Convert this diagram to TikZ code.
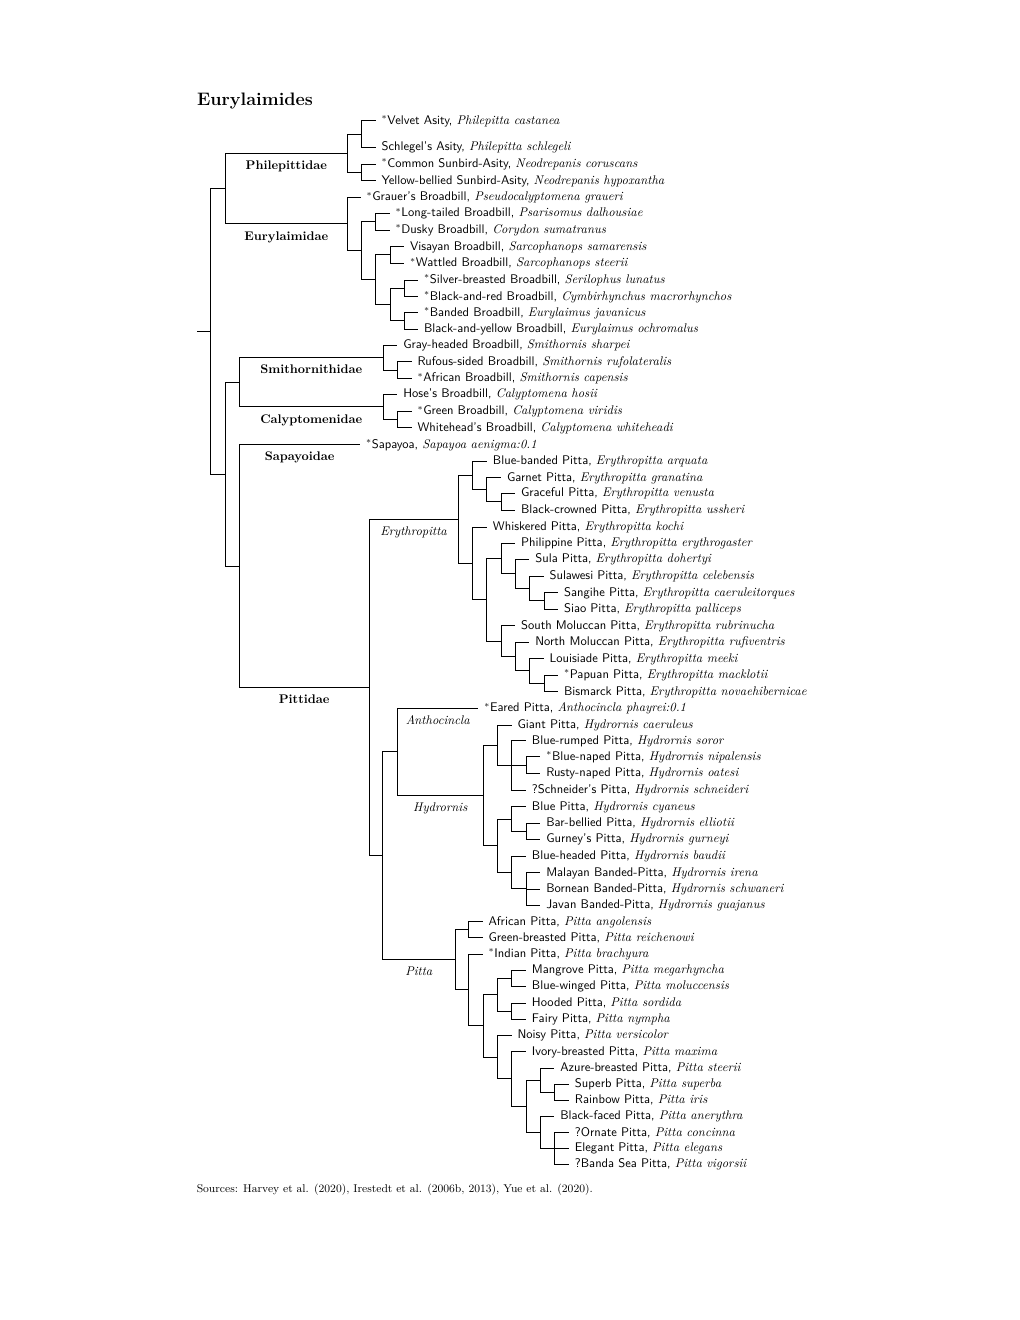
\documentclass[tikz,border=0pt]{standalone}
\usepackage{fontspec}
\usetikzlibrary{calc}
\newcommand\cname[1]{{\sffamily #1}}
\newcommand\sname[1]{{\itshape #1}}
\newcommand\st{$^*$}
\newcommand\inode[4]{\path let \p1=(#3), \p2=(#4) in coordinate (#1) at ({#2*0.798pt},{0.5*(\y1+\y2)});}
\newcommand\leafnode[5]{\coordinate (#1) at (#2,#3); \node[leaftxt] (#1t) at ({#2+5.8},{#3+3.5}) {\cname{#4} \sname{#5}};}
\newcommand\kids[2]{\foreach \kid in {#2}{\draw[br] (#1) |- (\kid);}}
\tikzset{
  br/.style={line width=0.8pt},
  leaftxt/.style={anchor=base west, inner sep=0pt},
  famlab/.style={anchor=base, inner sep=0pt, font=\bfseries, yshift=-13.0pt},
  genlab/.style={anchor=base, inner sep=0pt, font=\itshape, yshift=-12.6pt}
}
\begin{document}
\begin{tikzpicture}[x=0.798pt,y=-0.798pt]
\useasboundingbox (0,0) rectangle (1020,1320);
\node[anchor=base west, font=\Large\bfseries, inner sep=0pt] (title) at (196.8,105) {Eurylaimides};
% leaves
\leafnode{l1}{375.5}{120.7}{\st Velvet Asity,}{Philepitta castanea}
\leafnode{l2}{375.5}{147.3}{Schlegel's Asity,}{Philepitta schlegeli}
\leafnode{l3}{375.5}{164.0}{\st Common Sunbird-Asity,}{Neodrepanis coruscans}
\leafnode{l4}{375.5}{180.7}{Yellow-bellied Sunbird-Asity,}{Neodrepanis hypoxantha}
\leafnode{l5}{360.5}{197.3}{\st Grauer's Broadbill,}{Pseudocalyptomena graueri}
\leafnode{l6}{389.5}{213.3}{\st Long-tailed Broadbill,}{Psarisomus dalhousiae}
\leafnode{l7}{389.5}{230.0}{\st Dusky Broadbill,}{Corydon sumatranus}
\leafnode{l8}{404}{246.5}{Visayan Broadbill,}{Sarcophanops samarensis}
\leafnode{l9}{404}{263.2}{\st Wattled Broadbill,}{Sarcophanops steerii}
\leafnode{l10}{418}{280.0}{\st Silver-breasted Broadbill,}{Serilophus lunatus}
\leafnode{l11}{418}{296.5}{\st Black-and-red Broadbill,}{Cymbirhynchus macrorhynchos}
\leafnode{l12}{418}{312.5}{\st Banded Broadbill,}{Eurylaimus javanicus}
\leafnode{l13}{418}{329.3}{Black-and-yellow Broadbill,}{Eurylaimus ochromalus}
\leafnode{l14}{397.3}{345.0}{Gray-headed Broadbill,}{Smithornis sharpei}
\leafnode{l15}{411.5}{361.7}{Rufous-sided Broadbill,}{Smithornis rufolateralis}
\leafnode{l16}{411.5}{378.3}{\st African Broadbill,}{Smithornis capensis}
\leafnode{l17}{397.3}{394.3}{Hose's Broadbill,}{Calyptomena hosii}
\leafnode{l18}{411.5}{411.3}{\st Green Broadbill,}{Calyptomena viridis}
\leafnode{l19}{411.5}{427.5}{Whitehead's Broadbill,}{Calyptomena whiteheadi}
\leafnode{l20}{360}{444.5}{\st Sapayoa,}{Sapayoa aenigma:0.1}
\leafnode{l21}{486.9}{461.0}{Blue-banded Pitta,}{Erythropitta arquata}
\leafnode{l22}{501}{477.7}{Garnet Pitta,}{Erythropitta granatina}
\leafnode{l23}{515}{493.3}{Graceful Pitta,}{Erythropitta venusta}
\leafnode{l24}{515}{510.0}{Black-crowned Pitta,}{Erythropitta ussheri}
\leafnode{l25}{486.9}{527.0}{Whiskered Pitta,}{Erythropitta kochi}
\leafnode{l26}{515}{543.3}{Philippine Pitta,}{Erythropitta erythrogaster}
\leafnode{l27}{529.3}{559.3}{Sula Pitta,}{Erythropitta dohertyi}
\leafnode{l28}{543.5}{576.0}{Sulawesi Pitta,}{Erythropitta celebensis}
\leafnode{l29}{558}{592.7}{Sangihe Pitta,}{Erythropitta caeruleitorques}
\leafnode{l30}{558}{609.0}{Siao Pitta,}{Erythropitta palliceps}
\leafnode{l31}{515}{625.7}{South Moluccan Pitta,}{Erythropitta rubrinucha}
\leafnode{l32}{529.3}{642.3}{North Moluccan Pitta,}{Erythropitta rufiventris}
\leafnode{l33}{543.5}{658.5}{Louisiade Pitta,}{Erythropitta meeki}
\leafnode{l34}{558}{675.0}{\st Papuan Pitta,}{Erythropitta macklotii}
\leafnode{l35}{558}{691.7}{Bismarck Pitta,}{Erythropitta novaehibernicae}
\leafnode{l36}{478.3}{708.3}{\st Eared Pitta,}{Anthocincla phayrei:0.1}
\leafnode{l37}{511.5}{725.0}{Giant Pitta,}{Hydrornis caeruleus}
\leafnode{l38}{525.9}{740.7}{Blue-rumped Pitta,}{Hydrornis soror}
\leafnode{l39}{540.2}{756.7}{\st Blue-naped Pitta,}{Hydrornis nipalensis}
\leafnode{l40}{540.2}{773.3}{Rusty-naped Pitta,}{Hydrornis oatesi}
\leafnode{l41}{525.9}{790.0}{?Schneider's Pitta,}{Hydrornis schneideri}
\leafnode{l42}{525.9}{806.7}{Blue Pitta,}{Hydrornis cyaneus}
\leafnode{l43}{540.2}{823.3}{Bar-bellied Pitta,}{Hydrornis elliotii}
\leafnode{l44}{540.2}{839.3}{Gurney's Pitta,}{Hydrornis gurneyi}
\leafnode{l45}{525.9}{856.0}{Blue-headed Pitta,}{Hydrornis baudii}
\leafnode{l46}{540.2}{872.7}{Malayan Banded-Pitta,}{Hydrornis irena}
\leafnode{l47}{540.2}{889.0}{Bornean Banded-Pitta,}{Hydrornis schwaneri}
\leafnode{l48}{540.2}{905.0}{Javan Banded-Pitta,}{Hydrornis guajanus}
\leafnode{l49}{482.5}{921.7}{African Pitta,}{Pitta angolensis}
\leafnode{l50}{482.5}{937.7}{Green-breasted Pitta,}{Pitta reichenowi}
\leafnode{l51}{482.5}{954.0}{\st Indian Pitta,}{Pitta brachyura}
\leafnode{l52}{525.9}{970.0}{Mangrove Pitta,}{Pitta megarhyncha}
\leafnode{l53}{525.9}{986.3}{Blue-winged Pitta,}{Pitta moluccensis}
\leafnode{l54}{525.9}{1003.0}{Hooded Pitta,}{Pitta sordida}
\leafnode{l55}{525.9}{1019.3}{Fairy Pitta,}{Pitta nympha}
\leafnode{l56}{511.5}{1035.3}{Noisy Pitta,}{Pitta versicolor}
\leafnode{l57}{525.9}{1051.7}{Ivory-breasted Pitta,}{Pitta maxima}
\leafnode{l58}{554.2}{1068.0}{Azure-breasted Pitta,}{Pitta steerii}
\leafnode{l59}{568.9}{1084.0}{Superb Pitta,}{Pitta superba}
\leafnode{l60}{568.9}{1100.3}{Rainbow Pitta,}{Pitta iris}
\leafnode{l61}{554.2}{1116.3}{Black-faced Pitta,}{Pitta anerythra}
\leafnode{l62}{568.9}{1132.5}{?Ornate Pitta,}{Pitta concinna}
\leafnode{l63}{568.9}{1148.0}{Elegant Pitta,}{Pitta elegans}
\leafnode{l64}{568.9}{1164.0}{?Banda Sea Pitta,}{Pitta vigorsii}
% internal nodes (bottom-up)
\inode{Pa}{361.7}{l1}{l2}
\inode{Pb}{361.7}{l3}{l4}
\inode{Ph}{347.3}{Pa}{Pb}
\inode{Eb}{375.8}{l6}{l7}
\inode{Ed}{390}{l8}{l9}
\inode{Ef}{404}{l10}{l11}
\inode{Eg}{404}{l12}{l13}
\inode{Ee}{390}{Ef}{Eg}
\inode{Ec}{375.8}{Ed}{Ee}
\inode{Ea}{361.7}{Eb}{Ec}
\inode{Eu}{347.3}{l5}{Ea}
\inode{B}{225.3}{Ph}{Eu}
\inode{Sa}{397.3}{l15}{l16}
\inode{Sm}{383.3}{l14}{Sa}
\inode{Ca}{397.3}{l18}{l19}
\inode{Cy}{383.3}{l17}{Ca}
\inode{SC}{239.3}{Sm}{Cy}
\inode{Rc}{501}{l23}{l24}
\inode{Rb}{486.7}{l22}{Rc}
\inode{Ra}{472.7}{l21}{Rb}
\inode{Rh}{544}{l29}{l30}
\inode{Rg}{529.3}{l28}{Rh}
\inode{Rf}{515}{l27}{Rg}
\inode{Re}{501}{l26}{Rf}
\inode{Rl}{544}{l34}{l35}
\inode{Rk}{529.3}{l33}{Rl}
\inode{Rj}{515}{l32}{Rk}
\inode{Ri}{501}{l31}{Rj}
\inode{Rd}{486.7}{Re}{Ri}
\inode{Rx}{472.7}{l25}{Rd}
\inode{Er}{458.3}{Ra}{Rx}
\inode{Hc}{526}{l39}{l40}
\inode{Hb}{511.7}{l38}{l41}
\inode{Ha}{497.3}{l37}{Hb}
\inode{Hf}{526}{l43}{l44}
\inode{He}{511.7}{l42}{Hf}
\inode{Hh}{526}{l46}{l48}
\inode{Hg}{511.7}{l45}{Hh}
\inode{Hd}{497.3}{He}{Hg}
\inode{Hy}{483.3}{Ha}{Hd}
\inode{AH}{397.3}{l36}{Hy}
\inode{Qa}{468.3}{l49}{l50}
\inode{Qf}{511.7}{l52}{l53}
\inode{Qg}{511.7}{l54}{l55}
\inode{Qd}{497.3}{Qf}{Qg}
\inode{Ql}{554.7}{l59}{l60}
\inode{Qj}{540}{l58}{Ql}
\inode{Qm}{554.7}{l62}{l64}
\inode{Qk}{540}{l61}{Qm}
\inode{Qi}{526}{Qj}{Qk}
\inode{Qh}{511.7}{l57}{Qi}
\inode{Qe}{497.3}{l56}{Qh}
\inode{Qc}{483.3}{Qd}{Qe}
\inode{Qb}{468.3}{l51}{Qc}
\inode{Pt}{455}{Qa}{Qb}
\inode{P2}{382.7}{AH}{Pt}
\inode{Pi}{369}{Er}{P2}
\inode{SP}{239.3}{l20}{Pi}
\inode{C}{225.3}{SC}{SP}
\inode{A}{210.7}{B}{C}
% edges
\draw[br] (A) -- ++(-14,0) coordinate (root);
\kids{A}{B,C}
\draw[br] (B) |- (Ph) node[famlab,pos=.75] (labPh) {Philepittidae};
\draw[br] (B) |- (Eu) node[famlab,pos=.75] (labEu) {Eurylaimidae};
\kids{Ph}{Pa,Pb}
\kids{Pa}{l1,l2}
\kids{Pb}{l3,l4}
\kids{Eu}{l5,Ea}
\kids{Ea}{Eb,Ec}
\kids{Eb}{l6,l7}
\kids{Ec}{Ed,Ee}
\kids{Ed}{l8,l9}
\kids{Ee}{Ef,Eg}
\kids{Ef}{l10,l11}
\kids{Eg}{l12,l13}
\kids{C}{SC,SP}
\draw[br] (SC) |- (Sm) node[famlab,pos=.75] (labSm) {Smithornithidae};
\draw[br] (SC) |- (Cy) node[famlab,pos=.75] (labCy) {Calyptomenidae};
\kids{Sm}{l14,Sa}
\kids{Sa}{l15,l16}
\kids{Cy}{l17,Ca}
\kids{Ca}{l18,l19}
\draw[br] (SP) |- (l20) node[famlab,pos=.75] (labSp) {Sapayoidae};
\draw[br] (SP) |- (Pi) node[famlab,pos=.75] (labPi) {Pittidae};
\draw[br] (Pi) |- (Er) node[genlab,pos=.75] (labEr) {Erythropitta};
\kids{Pi}{P2}
\kids{Er}{Ra,Rx}
\kids{Ra}{l21,Rb}
\kids{Rb}{l22,Rc}
\kids{Rc}{l23,l24}
\kids{Rx}{l25,Rd}
\kids{Rd}{Re,Ri}
\kids{Re}{l26,Rf}
\kids{Rf}{l27,Rg}
\kids{Rg}{l28,Rh}
\kids{Rh}{l29,l30}
\kids{Ri}{l31,Rj}
\kids{Rj}{l32,Rk}
\kids{Rk}{l33,Rl}
\kids{Rl}{l34,l35}
\kids{P2}{AH}
\draw[br] (P2) |- (Pt) node[genlab,pos=.75] (labPt) {Pitta};
\draw[br] (AH) |- (l36) node[genlab,pos=.75] (labAn) {Anthocincla};
\draw[br] (AH) |- (Hy) node[genlab,pos=.75] (labHy) {Hydrornis};
\kids{Hy}{Ha,Hd}
\kids{Ha}{l37,Hb}
\kids{Hb}{l38,Hc,l41}
\kids{Hc}{l39,l40}
\kids{Hd}{He,Hg}
\kids{He}{l42,Hf}
\kids{Hf}{l43,l44}
\kids{Hg}{l45,Hh}
\kids{Hh}{l46,l47,l48}
\kids{Pt}{Qa,Qb}
\kids{Qa}{l49,l50}
\kids{Qb}{l51,Qc}
\kids{Qc}{Qd,Qe}
\kids{Qd}{Qf,Qg}
\kids{Qf}{l52,l53}
\kids{Qg}{l54,l55}
\kids{Qe}{l56,Qh}
\kids{Qh}{l57,Qi}
\kids{Qi}{Qj,Qk}
\kids{Qj}{l58,Ql}
\kids{Ql}{l59,l60}
\kids{Qk}{l61,Qm}
\kids{Qm}{l62,l63,l64}
\node[anchor=base west, font=\small, inner sep=0pt] (src) at (196.5,1192) {Sources: Harvey et al. (2020), Irestedt et al. (2006b, 2013), Yue et al. (2020).};
\end{tikzpicture}
\end{document}
